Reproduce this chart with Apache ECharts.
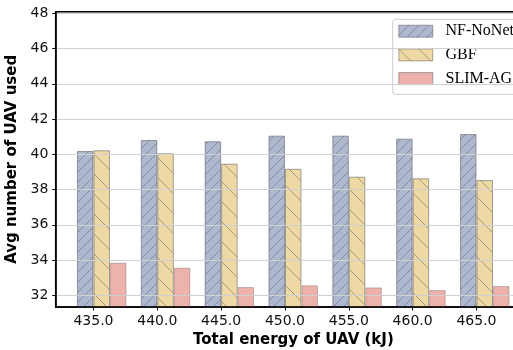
<!DOCTYPE html>
<html><head><meta charset="utf-8">
<script src="https://cdn.jsdelivr.net/npm/echarts@6/dist/echarts.min.js"></script>
<style>html,body{margin:0;padding:0;background:#fff}#c{width:513px;height:350px}</style>
</head><body><div id="c"></div>
<script>
const energies = [435, 440, 445, 450, 455, 460, 465];
const seriesNames = ['NF-NoNet', 'GBF', 'SLIM-AG'];
const nfNoNet = [40.19, 40.81, 40.74, 41.06, 41.06, 40.89, 41.15];
const gbf = [40.23, 40.06, 39.47, 39.18, 38.73, 38.64, 38.54];
const slimAg = [33.85, 33.57, 32.47, 32.57, 32.45, 32.30, 32.53];
const yTicks = [32, 34, 36, 38, 40, 42, 44, 46, 48];

function hatch(bg, size, dir) {
  const c = document.createElement('canvas');
  c.width = size; c.height = size;
  const g = c.getContext('2d');
  g.fillStyle = bg; g.fillRect(0, 0, size, size);
  g.strokeStyle = 'rgba(70,72,85,0.5)'; g.lineWidth = 1;
  g.beginPath();
  for (const k of [-size, 0, size]) {
    if (dir === '/') { g.moveTo(k, size); g.lineTo(k + size, 0); }
    else { g.moveTo(k, 0); g.lineTo(k + size, size); }
  }
  g.stroke();
  return { image: c, repeat: 'repeat' };
}

const pairs = vals => energies.map((e, i) => [e, vals[i]]);
const edge = { borderColor: 'rgba(70,70,70,0.55)', borderWidth: 1 };
const BW = 16.5;

const option = {
  animation: false,
  grid: { left: 55.7, top: 11.7, width: 475.3, height: 295.3, outerBoundsMode: 'none', containLabel: false,
          show: true, borderColor: '#000', borderWidth: 1.5, backgroundColor: 'transparent' },
  legend: {
    data: seriesNames, orient: 'vertical', left: 392.7, top: 19.3,
    itemWidth: 34, itemHeight: 12, itemGap: 7.7, icon: 'rect', align: 'left',
    padding: [3.9, 20, 7.8, 5.6], backgroundColor: '#fff', borderColor: '#cccccc', borderWidth: 1, borderRadius: 3,
    itemStyle: { borderWidth: 1, borderColor: 'rgba(70,70,70,0.5)' },
    textStyle: { fontFamily: 'Liberation Serif', fontSize: 16, color: '#000', lineHeight: 16, padding: [0, 0, 0, 7.7] }
  },
  xAxis: [{
    type: 'value', min: 432.04, max: 469.27, z: 10,
    axisLine: { show: true, onZero: false, lineStyle: { color: '#000', width: 1.5 } },
    axisTick: { show: true, length: 3.5, customValues: energies, lineStyle: { color: '#000' } },
    axisLabel: { customValues: energies, formatter: v => Number(v).toFixed(1), margin: 7, fontSize: 14, fontFamily: 'DejaVu Sans', color: '#111' },
    splitLine: { show: false },
    name: 'Total energy of UAV (kJ)', nameLocation: 'middle', nameGap: 25,
    nameTextStyle: { fontFamily: 'DejaVu Sans', fontWeight: 'bold', fontSize: 15, color: '#000' }
  }],
  yAxis: [{
    type: 'value', min: 31.34, max: 48.09, z: 10,
    axisLine: { show: true, lineStyle: { color: '#000', width: 1.5 } },
    axisTick: { show: true, length: 3.5, customValues: yTicks, lineStyle: { color: '#000' } },
    axisLabel: { customValues: yTicks, margin: 7.4, fontSize: 14, fontFamily: 'DejaVu Sans', color: '#111' },
    splitLine: { show: true, lineStyle: { color: '#d0d0d0', width: 1 } },
    name: 'Avg number of UAV used', nameLocation: 'middle', nameGap: 27,
    nameTextStyle: { fontFamily: 'DejaVu Sans', fontWeight: 'bold', fontSize: 15, color: '#000' }
  }],
  series: [
    { type: 'bar', name: '_pad', data: energies.map(e => [e, '-']), barWidth: BW, barGap: '0%', silent: true },
    { type: 'bar', name: seriesNames[0], data: pairs(nfNoNet), barWidth: BW, barGap: '0%',
      itemStyle: Object.assign({ color: hatch('#a3aec8', 10, '/'), opacity: 0.87 }, edge) },
    { type: 'bar', name: seriesNames[1], data: pairs(gbf), barWidth: BW, barGap: '0%',
      itemStyle: Object.assign({ color: hatch('#ecd498', 20, '\\'), opacity: 0.87 }, edge) },
    { type: 'bar', name: seriesNames[2], data: pairs(slimAg), barWidth: BW, barGap: '0%',
      itemStyle: Object.assign({ color: '#eca6a0', opacity: 0.87 }, { borderColor: 'rgba(110,90,90,0.45)', borderWidth: 1 }) }
  ]
};
const chart = echarts.init(document.getElementById('c'), null, { renderer: 'canvas' });
chart.setOption(option);
</script></body></html>
